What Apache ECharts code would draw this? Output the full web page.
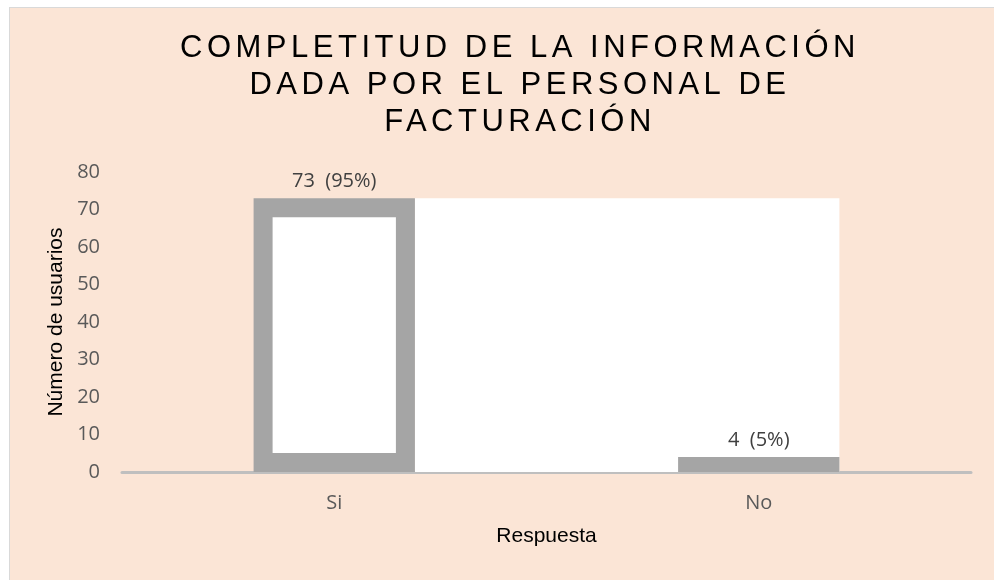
<!DOCTYPE html>
<html>
<head>
<meta charset="utf-8">
<script src="https://cdn.jsdelivr.net/npm/echarts@6/dist/echarts.min.js"></script>
<style>
html,body{margin:0;padding:0;background:#fff;}
#frame{position:absolute;left:9px;top:7px;width:985px;height:573px;background:#FBE5D6;border-left:1px solid #D9D9D9;border-top:1px solid #D9D9D9;box-sizing:border-box;}
#chart{position:absolute;left:0;top:0;width:994px;height:580px;}
</style>
</head>
<body>
<div id="frame"></div>
<div id="chart"></div>
<script>
// ---- data ----
const titleText = 'COMPLETITUD DE LA INFORMACIÓN\nDADA POR EL PERSONAL DE\nFACTURACIÓN';
const categories = ['Si', 'No'];
const counts = [73, 4];
const percents = [95, 5];
const yMin = 0;
const yMax = 80;
const yStep = 10;
const xAxisName = 'Respuesta';
const yAxisName = 'Número de usuarios';

// letter spacing for the title (canvas feature, applied to the 31px title font only)
(function () {
  const P = CanvasRenderingContext2D.prototype;
  const orig = P.fillText;
  P.fillText = function () {
    if (/(^|\s)31px/.test(this.font) && 'letterSpacing' in this) {
      const prev = this.letterSpacing;
      this.letterSpacing = '4.5px';
      const r = orig.apply(this, arguments);
      this.letterSpacing = prev;
      return r;
    }
    return orig.apply(this, arguments);
  };
})();

const barRatio = 0.38;
const chart = echarts.init(document.getElementById('chart'), null, { renderer: 'canvas' });

const option = {
  backgroundColor: 'transparent',
  animation: false,
  title: {
    text: titleText,
    left: 520,
    top: 30,
    textAlign: 'center',
    padding: 0,
    textStyle: {
      fontFamily: 'Liberation Sans',
      fontSize: 31,
      fontWeight: 'normal',
      color: '#000',
      lineHeight: 37
    }
  },
  grid: { left: 122, right: 23, top: 172, bottom: 108 },
  xAxis: {
    type: 'category',
    data: categories,
    name: xAxisName,
    nameLocation: 'middle',
    nameGap: 54,
    nameTextStyle: { fontFamily: 'Liberation Sans', fontSize: 21, color: '#000' },
    axisLine: { show: true, lineStyle: { color: '#BFBFBF', width: 3 } },
    axisTick: { show: false },
    axisLabel: { margin: 21, fontFamily: 'Open Sans', fontSize: 20, color: '#595959' },
    splitLine: { show: false }
  },
  yAxis: {
    type: 'value',
    min: yMin,
    max: yMax,
    interval: yStep,
    name: yAxisName,
    nameLocation: 'middle',
    nameGap: 55,
    nameRotate: 90,
    nameTextStyle: { fontFamily: 'Liberation Sans', fontSize: 21, color: '#000' },
    axisLine: { show: false },
    axisTick: { show: false },
    splitLine: { show: false },
    axisLabel: { margin: 22, fontFamily: 'Open Sans', fontSize: 20, color: '#595959' }
  },
  series: [
    {
      type: 'custom',
      silent: true,
      renderItem: function (params, api) {
        const start = api.coord([api.value(0), api.value(2)]);
        const end = api.coord([api.value(1), 0]);
        const half = api.size([1, 0])[0] * barRatio / 2;
        return {
          type: 'rect',
          shape: { x: start[0] + half, y: start[1], width: end[0] - start[0], height: end[1] - start[1] },
          style: { fill: '#FFFFFF' }
        };
      },
      encode: { x: [0, 1], y: 2 },
      data: [[0, 1, counts[0]]]
    },
    {
      type: 'bar',
      barWidth: (barRatio * 100) + '%',
      data: counts.map(function (v, i) {
        return {
          value: v,
          itemStyle: i === 0
            ? { color: '#FFFFFF', borderColor: '#A5A5A5', borderWidth: 19 }
            : { color: '#A5A5A5' }
        };
      }),
      label: {
        show: true,
        position: 'top',
        distance: 7,
        fontFamily: 'Open Sans',
        fontSize: 20,
        color: '#404040',
        formatter: function (p) { return p.value + '  (' + percents[p.dataIndex] + '%)'; }
      }
    }
  ]
};
chart.setOption(option);
</script>
</body>
</html>
